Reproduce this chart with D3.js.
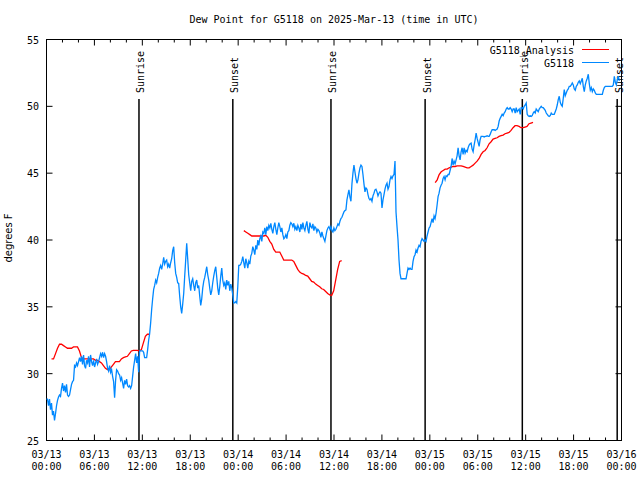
<!DOCTYPE html>
<html><head><meta charset="utf-8">
<script src="https://cdn.jsdelivr.net/npm/d3@7"></script>
<style>
body{margin:0;background:#fff}
svg{display:block}
text{font-family:"DejaVu Sans Mono",monospace;font-size:10px;fill:#000}
</style>
</head><body>
<svg id="c" width="640" height="480"></svg>
<script>
const titleText = "Dew Point for G5118 on 2025-Mar-13 (time in UTC)";
const yLabelText = "degrees F";
const xMajorHours = [0,6,12,18,24,30,36,42,48,54,60,66,72];
const xMinorHours = [2,4,8,10,14,16,20,22,26,28,32,34,38,40,44,46,50,52,56,58,62,64,68,70];
const xTickDates = ["03/13","03/13","03/13","03/13","03/14","03/14","03/14","03/14","03/15","03/15","03/15","03/15","03/16"];
const xTickTimes = ["00:00","06:00","12:00","18:00","00:00","06:00","12:00","18:00","00:00","06:00","12:00","18:00","00:00"];
const yTicks = [25,30,35,40,45,50,55];
const sunNames = ["Sunrise","Sunset","Sunrise","Sunset","Sunrise","Sunset"];
const sunHours = [11.58,23.33,35.62,47.41,59.58,71.46];

const obsName = "G5118";
const obsStartHour = 0;
const obsStepHours = 0.1254;
const obsValues = [
28.1,28.1,27.6,28.1,27.3,27.8,26.9,27.2,26.5,27.0,27.6,28.0,28.25,28.4,28.3,28.9,29.3,28.7,29.1,28.6,
29.2,28.4,28.3,28.4,28.8,29.2,29.4,29.5,30.6,30.5,30.8,30.6,30.9,31.2,30.9,31.3,30.7,31.4,30.6,30.4,
31.0,30.8,31.3,30.5,31.4,30.9,30.6,31.0,30.5,30.8,31.1,30.7,30.9,31.2,31.5,31.3,31.6,31.2,31.5,31.3,
30.9,30.4,30.2,30.6,30.1,30.3,29.8,29.4,28.2,29.5,30.3,30.2,30.0,29.9,29.5,29.7,29.3,28.9,29.5,29.2,
29.6,29.1,29.0,29.1,28.9,29.1,29.8,30.5,31.0,31.5,30.8,31.3,30.1,31.7,31.7,31.7,31.7,31.6,31.2,31.2,
31.2,31.8,32.5,33.0,33.8,34.8,35.6,36.3,36.6,37.0,36.8,37.2,37.5,37.9,38.1,37.8,38.2,38.7,38.2,38.4,
38.5,38.0,38.2,37.9,38.3,38.6,39.2,39.5,38.3,37.5,37.2,36.8,36.75,35.8,35.0,34.5,35.2,36.0,37.3,38.5,
39.75,38.6,37.4,36.8,36.2,36.9,37.1,36.6,36.2,36.8,37.0,36.4,36.6,35.8,35.1,35.6,36.4,36.9,37.2,37.6,
38.0,37.4,37.0,36.4,35.9,36.2,36.8,37.3,37.7,38.0,37.2,36.4,35.9,36.5,37.3,37.9,37.0,36.6,36.8,36.3,
37.0,36.6,36.9,36.2,36.7,36.4,35.9,35.3,35.3,35.4,35.3,36.5,38.1,38.1,38.2,38.4,38.75,38.3,37.9,38.6,
38.3,37.9,38.4,38.2,38.8,39.0,39.5,39.25,38.9,39.6,39.3,40.0,39.6,40.1,40.3,39.9,40.6,40.5,40.9,40.4,
41.0,40.7,41.1,40.9,41.25,40.8,40.5,41.0,41.3,40.8,40.4,40.9,41.3,41.0,40.6,40.9,40.4,40.1,40.2,40.4,
40.1,40.6,40.7,41.1,41.3,41.2,41.0,41.25,40.8,41.0,40.7,41.1,40.9,40.6,41.2,40.8,41.3,40.9,40.7,41.1,
41.4,40.8,40.5,41.3,41.0,40.9,41.2,40.7,41.0,40.9,40.6,40.8,40.7,40.5,40.2,40.6,40.3,40.1,39.9,40.3,
40.7,40.9,41.0,40.8,41.0,40.7,40.6,40.9,40.7,40.8,41.0,41.2,41.1,41.4,41.6,41.7,41.9,42.1,42.2,42.25,
43.0,43.4,43.75,43.2,42.9,44.2,45.0,45.6,45.1,44.6,44.25,44.5,45.0,45.4,45.6,45.5,44.9,44.2,43.6,43.9,
43.8,43.4,43.1,43.0,43.1,42.9,43.3,43.5,43.75,43.8,43.6,43.3,43.5,43.6,43.5,42.4,43.0,43.4,43.8,44.1,
44.25,43.8,44.0,44.5,44.75,44.6,44.8,44.9,45.9,42.1,41.0,40.0,38.5,37.5,37.1,37.1,37.1,37.1,37.1,37.1,
37.5,37.9,37.8,37.9,37.8,37.8,38.4,38.75,38.9,39.25,39.1,39.4,39.6,39.5,39.9,40.1,40.0,39.9,40.0,39.9,
40.3,40.6,40.9,41.0,41.3,41.6,41.3,41.8,41.6,42.0,42.6,43.25,43.5,43.9,44.1,44.25,44.6,44.75,44.5,44.8,
44.75,44.9,44.9,45.2,45.5,46.1,45.6,45.9,45.7,46.0,46.3,46.9,46.3,46.0,46.6,46.9,46.4,46.9,46.5,46.7,
46.6,46.9,47.1,47.2,47.25,46.8,46.6,47.1,47.5,48.0,47.6,47.3,47.0,47.5,47.75,47.75,47.75,47.7,47.75,47.75,
47.8,47.75,47.75,47.9,48.1,48.25,48.25,48.25,48.2,48.25,48.3,48.5,48.9,49.1,49.25,49.4,49.3,49.5,49.6,49.8,
49.9,49.8,49.8,49.9,49.8,49.6,49.8,49.8,49.5,49.9,49.6,49.7,49.8,49.4,49.9,49.9,49.8,50.0,50.1,50.25,
49.4,49.3,49.25,49.3,49.25,49.3,49.5,49.6,49.5,49.8,49.7,49.6,49.8,49.9,50.0,49.9,49.9,49.8,49.7,49.5,
49.4,49.3,49.25,49.3,49.5,49.4,49.4,49.4,49.6,49.8,50.1,50.5,50.75,50.3,50.1,50.0,50.6,51.25,50.8,51.0,
51.2,51.3,51.5,51.5,51.6,51.75,51.6,51.3,51.2,51.5,51.6,51.8,51.9,51.7,51.9,52.1,51.5,51.1,51.6,51.9,
52.1,52.4,51.7,51.2,51.4,51.1,51.3,51.2,51.0,50.9,50.9,50.9,50.9,50.9,50.9,50.9,51.2,51.4,51.5,51.5,
51.5,51.5,51.5,51.5,51.5,51.5,51.6,52.25,51.8,51.6,52.0,52.25,51.9
];

const anaName = "G5118_Analysis";
const anaStepHours = 0.25;
const anaSegmentStartHours = [0.63, 24.71, 48.67];
const anaSeg1 = [31.1,31.1,31.5,31.9,32.2,32.2,32.1,32.0,31.9,31.9,31.9,32.0,32.0,32.0,31.7,31.2,31.1,31.1,31.1,31.1,
31.1,31.1,31.0,31.0,30.9,30.8,30.6,30.4,30.3,30.3,30.5,30.7,30.9,30.9,30.9,31.1,31.2,31.25,31.3,31.5,
31.7,31.75,31.75,31.75,31.7,31.8,32.3,32.8,32.95,32.95];
const anaSeg2 = [40.7,40.6,40.5,40.4,40.3,40.3,40.3,40.3,40.3,40.3,40.3,40.35,40.2,39.9,39.7,39.3,39.1,39.1,39.1,38.8,
38.5,38.5,38.5,38.5,38.5,38.4,38.1,37.8,37.6,37.5,37.45,37.35,37.3,37.1,36.9,36.85,36.7,36.6,36.5,36.35,
36.3,36.15,36.0,35.9,35.85,36.2,37.0,37.8,38.4,38.45];
const anaSeg3 = [44.3,44.5,44.9,45.1,45.2,45.3,45.3,45.4,45.45,45.5,45.5,45.55,45.55,45.55,45.5,45.45,45.4,45.4,45.5,45.6,
45.75,45.9,46.1,46.4,46.6,46.7,46.9,47.2,47.35,47.55,47.6,47.65,47.75,47.8,47.85,47.95,48.0,48.05,48.2,48.4,
48.55,48.55,48.5,48.4,48.4,48.45,48.5,48.7,48.75,48.8];

const obsColor = "#0088ff";
const anaColor = "#ff0000";

const svg = d3.select("#c");
const L = 46.5, R = 621.5, T = 39.5, B = 440.5;
const x = d3.scaleLinear().domain([0,72]).range([L,R]);
const y = d3.scaleLinear().domain([25,55]).range([B,T]);

// title
svg.append("text").attr("x",(L+R)/2).attr("y",23).attr("text-anchor","middle").text(titleText);
// y label
svg.append("text").attr("transform","translate(12,238) rotate(-90)").attr("text-anchor","middle")
  .style("font-family","'DejaVu Sans',sans-serif").style("font-size","10px").text(yLabelText);

// axes ticks
function styleAxis(g){ g.select(".domain").remove(); g.selectAll("line").attr("stroke","#000"); g.selectAll("text").remove(); }
svg.append("g").attr("transform",`translate(0,${B})`).call(d3.axisBottom(x).tickValues(xMajorHours).tickSize(-6).offset(0)).call(styleAxis);
svg.append("g").attr("transform",`translate(0,${B})`).call(d3.axisBottom(x).tickValues(xMinorHours).tickSize(-3).offset(0)).call(styleAxis);
svg.append("g").attr("transform",`translate(0,${T})`).call(d3.axisTop(x).tickValues(xMajorHours).tickSize(-6).offset(0)).call(styleAxis);
svg.append("g").attr("transform",`translate(0,${T})`).call(d3.axisTop(x).tickValues(xMinorHours).tickSize(-3).offset(0)).call(styleAxis);
svg.append("g").attr("transform",`translate(${L},0)`).call(d3.axisLeft(y).tickValues(yTicks).tickSize(-6).offset(0)).call(styleAxis);
svg.append("g").attr("transform",`translate(${R},0)`).call(d3.axisRight(y).tickValues(yTicks).tickSize(-6).offset(0)).call(styleAxis);

// tick labels
xMajorHours.forEach((h,i)=>{
  svg.append("text").attr("x",x(h)).attr("y",458).attr("text-anchor","middle").text(xTickDates[i]);
  svg.append("text").attr("x",x(h)).attr("y",470).attr("text-anchor","middle").text(xTickTimes[i]);
});
yTicks.forEach(v=>{
  svg.append("text").attr("x",39).attr("y",y(v)+4).attr("text-anchor","end").text(v);
});

// frame
svg.append("rect").attr("x",L).attr("y",T).attr("width",R-L).attr("height",B-T)
  .attr("fill","none").attr("stroke","#000").attr("stroke-width",1);

// sunrise / sunset lines
sunHours.forEach((h,i)=>{
  const lx = x(h);
  svg.append("line").attr("x1",lx).attr("x2",lx).attr("y1",B).attr("y2",99)
    .attr("stroke","#000").attr("stroke-width",1.5);
  svg.append("text").attr("transform",`translate(${lx+5.5},93) rotate(-90)`).attr("text-anchor","start").text(sunNames[i]);
});

// analysis lines
const line = d3.line().x(d=>x(d[0])).y(d=>y(d[1]));
[anaSeg1,anaSeg2,anaSeg3].forEach((seg,k)=>{
  const pts = seg.map((v,i)=>[anaSegmentStartHours[k]+i*anaStepHours, v]);
  svg.append("path").attr("d",line(pts)).attr("fill","none").attr("stroke",anaColor).attr("stroke-width",1.3);
});
// observations
const obsPts = obsValues.map((v,i)=>[obsStartHour+i*obsStepHours, v]);
svg.append("path").attr("d",line(obsPts)).attr("fill","none").attr("stroke",obsColor).attr("stroke-width",1.3);

// legend
const legend = [[anaName,anaColor,54,49.5],[obsName,obsColor,67,62.5]];
legend.forEach(([name,col,ty,ly])=>{
  svg.append("text").attr("x",574).attr("y",ty).attr("text-anchor","end").text(name);
  svg.append("line").attr("x1",582).attr("x2",609).attr("y1",ly).attr("y2",ly).attr("stroke",col).attr("stroke-width",1);
});
</script>
</body></html>
